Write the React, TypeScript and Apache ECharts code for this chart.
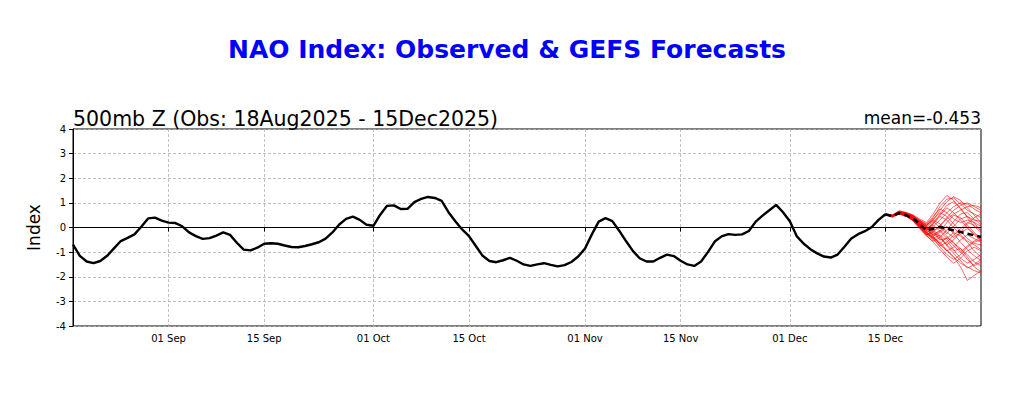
import React, { useEffect, useRef } from "react";
import * as echarts from "echarts";

const MONTHS = ["Jan", "Feb", "Mar", "Apr", "May", "Jun", "Jul", "Aug", "Sep", "Oct", "Nov", "Dec"];
const START = Date.UTC(2025, 7, 18);
const N_DAYS = 134; // 18 Aug 2025 .. 29 Dec 2025
const categories: string[] = Array.from({ length: N_DAYS }, (_, i) => {
  const d = new Date(START + i * 86400000);
  return `${String(d.getUTCDate()).padStart(2, "0")} ${MONTHS[d.getUTCMonth()]}`;
});
const tickLabels = ["01 Sep", "15 Sep", "01 Oct", "15 Oct", "01 Nov", "15 Nov", "01 Dec", "15 Dec"];
const yTicks = [-4, -3, -2, -1, 0, 1, 2, 3, 4];

// Observed NAO index, 18 Aug - 15 Dec 2025 (daily)
const observed = [
  -0.70, -1.15, -1.38, -1.45, -1.36, -1.15, -0.85, -0.55, -0.42, -0.28,
  0.03, 0.37, 0.40, 0.28, 0.20, 0.18, 0.05, -0.20, -0.35, -0.46,
  -0.43, -0.33, -0.20, -0.30, -0.62, -0.90, -0.93, -0.82, -0.66, -0.64,
  -0.66, -0.73, -0.79, -0.80, -0.75, -0.68, -0.60, -0.45, -0.20, 0.12,
  0.35, 0.44, 0.31, 0.11, 0.07, 0.52, 0.88, 0.90, 0.75, 0.76,
  1.03, 1.16, 1.24, 1.20, 1.08, 0.62, 0.25, -0.08, -0.35, -0.75,
  -1.15, -1.36, -1.41, -1.33, -1.23, -1.35, -1.50, -1.56, -1.50, -1.45,
  -1.52, -1.58, -1.53, -1.40, -1.18, -0.85, -0.28, 0.24, 0.38, 0.26,
  -0.13, -0.55, -0.95, -1.25, -1.38, -1.38, -1.23, -1.10, -1.16, -1.35,
  -1.50, -1.56, -1.38, -1.00, -0.57, -0.36, -0.27, -0.30, -0.28, -0.14,
  0.24, 0.48, 0.70, 0.92, 0.62, 0.25, -0.35, -0.65, -0.88, -1.05,
  -1.18, -1.22, -1.10, -0.78, -0.45, -0.27, -0.15, 0.02, 0.31, 0.54,
];

// GEFS ensemble mean forecast, 15 Dec - 29 Dec
const forecastMean = [0.54, 0.45, 0.58, 0.50, 0.38, 0.15, -0.12, -0.05, 0.02, -0.05, -0.12, -0.18, -0.25, -0.32, -0.38];

// GEFS ensemble members, 15 Dec - 29 Dec
const member01 = [0.54, 0.48, 0.62, 0.55, 0.45, 0.20, 0.05, 0.40, 0.85, 1.15, 1.20, 0.95, 0.70, 0.55, 0.40];
const member02 = [0.54, 0.45, 0.58, 0.50, 0.35, 0.05, -0.25, -0.40, -0.60, -0.90, -1.20, -1.45, -1.60, -1.75, -1.85];
const member03 = [0.54, 0.50, 0.65, 0.60, 0.50, 0.30, 0.10, 0.30, 0.70, 1.05, 1.25, 1.10, 0.80, 0.50, 0.20];
const member04 = [0.54, 0.42, 0.55, 0.45, 0.30, 0.00, -0.30, -0.20, 0.10, 0.35, 0.55, 0.70, 0.85, 0.90, 0.80];
const member05 = [0.54, 0.47, 0.60, 0.52, 0.38, 0.10, -0.15, -0.45, -0.80, -1.10, -1.30, -1.10, -0.80, -0.60, -0.50];
const member06 = [0.54, 0.46, 0.57, 0.48, 0.32, 0.12, -0.05, 0.15, 0.45, 0.30, 0.00, -0.30, -0.55, -0.70, -0.90];
const member07 = [0.54, 0.44, 0.62, 0.58, 0.40, 0.18, -0.10, -0.30, -0.15, 0.20, 0.50, 0.40, 0.10, -0.20, -0.45];
const member08 = [0.54, 0.49, 0.66, 0.55, 0.42, 0.25, 0.00, -0.35, -0.70, -0.95, -1.20, -1.60, -2.15, -1.95, -1.75];
const member09 = [0.54, 0.43, 0.56, 0.47, 0.28, -0.05, -0.35, -0.55, -0.40, -0.10, 0.25, 0.55, 0.60, 0.35, 0.10];
const member10 = [0.54, 0.50, 0.68, 0.62, 0.52, 0.35, 0.20, 0.55, 1.00, 1.30, 1.10, 0.75, 0.45, 0.30, 0.25];
const member11 = [0.54, 0.45, 0.59, 0.51, 0.36, 0.08, -0.20, -0.10, -0.35, -0.70, -0.95, -0.85, -1.10, -1.40, -1.55];
const member12 = [0.54, 0.46, 0.61, 0.53, 0.40, 0.15, -0.10, 0.05, 0.30, 0.60, 0.85, 1.00, 0.95, 0.75, 0.60];
const member13 = [0.54, 0.48, 0.63, 0.57, 0.44, 0.22, -0.02, -0.25, -0.50, -0.45, -0.20, -0.35, -0.60, -0.95, -1.20];
const member14 = [0.54, 0.44, 0.57, 0.49, 0.33, 0.02, -0.28, -0.50, -0.75, -0.60, -0.30, -0.05, 0.20, 0.10, -0.10];
const member15 = [0.54, 0.47, 0.64, 0.56, 0.46, 0.28, 0.12, 0.35, 0.60, 0.45, 0.15, -0.15, -0.45, -0.65, -0.70];
const member16 = [0.54, 0.49, 0.60, 0.50, 0.37, 0.10, -0.18, -0.40, -0.65, -0.95, -0.80, -0.50, -0.30, -0.45, -0.60];
const member17 = [0.54, 0.45, 0.58, 0.52, 0.39, 0.16, -0.08, 0.20, 0.55, 0.90, 1.05, 0.80, 0.40, 0.05, -0.20];
const member18 = [0.54, 0.46, 0.55, 0.46, 0.31, 0.04, -0.25, -0.45, -0.30, -0.55, -0.90, -1.25, -1.45, -1.30, -1.10];
const member19 = [0.54, 0.48, 0.66, 0.59, 0.48, 0.26, 0.05, -0.15, 0.05, 0.40, 0.70, 0.90, 1.00, 0.85, 0.70];
const member20 = [0.54, 0.43, 0.57, 0.50, 0.34, 0.06, -0.22, -0.35, -0.20, 0.05, -0.25, -0.60, -0.90, -1.15, -1.35];
const member21 = [0.54, 0.50, 0.64, 0.54, 0.41, 0.19, -0.05, 0.10, -0.15, -0.45, -0.75, -1.00, -0.75, -0.55, -0.40];
const member22 = [0.54, 0.47, 0.61, 0.53, 0.43, 0.24, 0.08, 0.30, 0.15, -0.20, -0.40, -0.20, 0.15, 0.40, 0.55];
const member23 = [0.54, 0.44, 0.59, 0.48, 0.30, 0.00, -0.32, -0.60, -0.90, -1.20, -1.45, -1.25, -0.95, -0.80, -0.95];
const member24 = [0.54, 0.46, 0.62, 0.56, 0.47, 0.30, 0.15, 0.45, 0.75, 0.60, 0.35, 0.20, 0.30, 0.20, 0.05];
const member25 = [0.54, 0.48, 0.60, 0.51, 0.38, 0.12, -0.12, -0.30, -0.10, -0.35, -0.65, -0.85, -1.20, -1.60, -1.80];
const member26 = [0.54, 0.45, 0.63, 0.57, 0.45, 0.21, 0.02, 0.25, 0.00, -0.25, 0.05, 0.35, 0.45, 0.20, -0.15];
const member27 = [0.54, 0.47, 0.58, 0.49, 0.35, 0.07, -0.20, -0.45, -0.65, -0.40, -0.60, -0.95, -1.30, -1.55, -1.40];
const member28 = [0.54, 0.49, 0.65, 0.58, 0.49, 0.27, 0.00, -0.20, -0.45, -0.70, -0.50, -0.20, -0.05, -0.25, -0.50];
const member29 = [0.54, 0.46, 0.60, 0.52, 0.40, 0.14, -0.12, 0.15, 0.50, 0.80, 0.60, 0.30, 0.00, -0.30, -0.55];
const member30 = [0.54, 0.44, 0.56, 0.47, 0.29, 0.03, -0.30, -0.15, -0.40, -0.75, -1.05, -1.35, -1.65, -1.50, -1.30];

const members = [
  member01, member02, member03, member04, member05, member06, member07, member08, member09, member10,
  member11, member12, member13, member14, member15, member16, member17, member18, member19, member20,
  member21, member22, member23, member24, member25, member26, member27, member28, member29, member30,
];

const FORECAST_START = observed.length - 1; // index of 15 Dec
const pad = (arr: number[]) =>
  Array.from({ length: N_DAYS }, (_, i) => (i >= FORECAST_START && i - FORECAST_START < arr.length ? arr[i - FORECAST_START] : null));

const FONT = "DejaVu Sans";

export default function App() {
  const ref = useRef<HTMLDivElement>(null);
  useEffect(() => {
    if (!ref.current) return;
    const chart = echarts.init(ref.current, null, { renderer: "svg" });
    const isTick = (_i: number, v: string) => tickLabels.includes(v);
    const memberSeries = members.map((m, k) => ({
      type: "line",
      name: `member${k + 1}`,
      data: pad(m),
      symbol: "none",
      connectNulls: false,
      lineStyle: { color: "rgba(255,0,0,0.6)", width: 1 },
      z: 3,
      silent: true,
    }));
    chart.setOption({
      animation: false,
      backgroundColor: "#ffffff",
      title: [
        {
          text: "NAO Index: Observed & GEFS Forecasts",
          left: 223,
          top: 32,
          textStyle: { color: "#0000ff", fontFamily: FONT, fontWeight: "bold", fontSize: 25 },
        },
        {
          text: "500mb Z (Obs: 18Aug2025 - 15Dec2025)",
          left: 68,
          top: 103,
          textStyle: { color: "#000000", fontFamily: FONT, fontWeight: "normal", fontSize: 20.5 },
        },
        {
          text: "mean=-0.453",
          right: 38,
          top: 104,
          textStyle: { color: "#000000", fontFamily: FONT, fontWeight: "normal", fontSize: 17 },
        },
      ],
      grid: {
        left: 73,
        right: 43,
        top: 129,
        bottom: 71,
        show: true,
        borderColor: "#000000",
        borderWidth: 1,
        containLabel: false,
      },
      xAxis: {
        type: "category",
        data: categories,
        boundaryGap: false,
        axisLine: { show: true, lineStyle: { color: "#000000", width: 1 } },
        axisTick: { show: true, interval: isTick, alignWithLabel: true, length: 4, lineStyle: { color: "#000000" } },
        axisLabel: { interval: isTick, color: "#000000", fontFamily: FONT, fontSize: 10, margin: 7 },
        splitLine: { show: true, interval: isTick, lineStyle: { color: "#b0b0b0", type: [3, 2], width: 0.8 } },
      },
      yAxis: {
        type: "value",
        min: yTicks[0],
        max: yTicks[yTicks.length - 1],
        interval: 1,
        name: "Index",
        nameLocation: "middle",
        nameGap: 31,
        nameTextStyle: { color: "#000000", fontFamily: FONT, fontSize: 17 },
        axisLine: { show: true, lineStyle: { color: "#000000", width: 1 } },
        axisTick: { show: true, length: 4, lineStyle: { color: "#000000" } },
        axisLabel: { color: "#000000", fontFamily: FONT, fontSize: 10, margin: 7 },
        splitLine: { show: true, lineStyle: { color: "#b0b0b0", type: [3, 2], width: 0.8 } },
      },
      series: [
        {
          type: "line",
          name: "observed",
          data: observed,
          symbol: "none",
          lineStyle: { color: "#000000", width: 2.4 },
          z: 4,
          silent: true,
          markLine: {
            silent: true,
            symbol: "none",
            label: { show: false },
            lineStyle: { color: "#000000", width: 0.8, type: "solid" },
            data: [{ yAxis: 0 }],
          },
        },
        ...memberSeries,
        {
          type: "line",
          name: "mean",
          data: pad(forecastMean),
          symbol: "none",
          lineStyle: { color: "#000000", width: 2.5, type: [6, 4] },
          z: 5,
          silent: true,
        },
      ],
    });
    return () => chart.dispose();
  }, []);
  return <div ref={ref} style={{ position: "fixed", left: 0, top: 0, width: 1024, height: 397 }} />;
}
